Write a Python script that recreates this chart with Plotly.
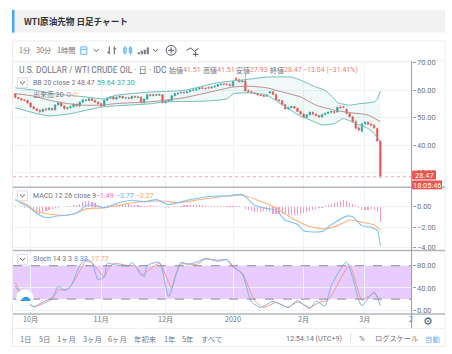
import plotly.graph_objects as go

W, H = 452, 354
UI_FONT = "Roboto, Noto Sans CJK JP, sans-serif"
JP_FONT = "Noto Sans CJK JP, sans-serif"
GRID = "#eef3f7"
GREY = "#6f7480"
SEP = "#b4b6bc"

# ---- OHLC, one row per trading day ----
bar_index = list(range(120))
opens = [58.7,57.3,56.9,56.4,56.2,55.3,53.9,53.2,52.6,52.2,53.0,52.8,53.3,52.8,54.6,55.4,54.2,53.3,53.6,53.9,
         54.9,54.2,55.6,56.4,56.2,56.8,56.2,55.6,55.0,54.2,56.3,57.0,57.5,56.7,57.4,57.7,57.1,57.2,56.9,57.7,
         57.4,57.5,55.4,56.7,58.3,58.0,58.3,58.1,58.3,55.4,55.9,56.2,57.9,58.7,58.9,59.2,59.0,59.4,59.9,60.0,
         60.4,60.8,60.6,60.9,60.7,61.1,61.4,62.0,62.2,62.1,62.0,61.5,64.2,63.7,63.0,63.3,59.7,59.4,59.0,58.7,
         58.2,58.0,57.7,58.9,59.4,58.4,56.4,56.1,54.7,53.1,53.6,54.0,53.4,52.2,51.3,50.1,51.0,51.9,51.2,50.7,
         50.2,51.1,51.5,51.9,52.2,52.0,53.7,53.9,53.0,51.5,50.3,48.5,46.1,45.0,47.7,48.3,47.6,47.2,46.0,41.51]
highs = [58.9,57.6,57.1,56.9,56.6,55.5,54.3,53.4,53.1,53.2,53.6,53.8,53.7,54.9,55.7,55.6,54.5,53.9,54.5,55.2,
         55.0,55.9,56.8,56.7,57.1,57.0,56.5,55.9,55.3,56.6,57.4,57.8,57.9,57.7,58.0,57.9,57.6,57.4,58.0,58.0,
         57.9,57.7,57.0,58.7,58.5,58.6,58.7,58.7,58.5,56.2,56.6,58.2,59.0,59.1,59.4,59.6,59.7,60.2,60.3,60.7,
         61.0,61.4,61.0,61.3,61.4,61.6,62.2,62.4,62.5,62.6,62.6,63.4,64.7,64.2,63.6,65.9,60.3,59.9,59.3,58.9,
         58.6,58.4,58.4,59.6,59.6,58.6,56.7,56.3,54.9,53.9,54.3,54.2,53.6,52.5,51.5,51.3,52.2,52.1,51.5,50.9,
         51.4,51.7,52.2,52.5,52.4,53.9,54.5,54.3,53.2,52.1,50.5,49.2,46.8,48.0,48.7,48.6,48.1,47.5,46.3,41.51]
lows = [57.0,56.6,56.1,55.9,55.0,53.6,52.9,52.4,51.4,51.9,52.5,52.6,52.5,52.6,54.3,53.8,52.8,52.8,53.2,53.5,
        54.0,53.9,55.4,55.9,55.9,56.0,55.3,54.7,53.9,54.0,56.1,56.8,56.4,56.5,56.9,56.9,56.7,56.7,56.7,57.2,
        56.9,55.1,55.2,56.5,57.7,57.6,57.9,57.9,55.1,55.0,55.6,56.0,57.7,58.2,58.6,58.8,58.8,59.2,59.6,59.7,
        60.2,60.4,60.2,60.5,60.5,60.8,61.2,61.7,61.8,61.7,61.6,61.3,63.7,62.8,62.7,59.4,59.0,58.8,58.5,58.0,
        57.7,57.5,57.5,58.7,58.2,56.1,55.8,54.4,52.8,52.8,53.3,53.2,52.0,51.0,49.7,49.5,50.7,51.0,50.4,49.9,
        50.0,50.8,51.2,51.5,51.3,51.8,53.3,53.6,51.2,50.0,48.2,45.7,45.1,44.5,47.2,47.3,46.8,45.9,41.2,27.93]
closes = [57.3,56.9,56.4,56.2,55.3,53.9,53.2,52.6,52.2,53.0,52.8,53.4,52.8,54.6,55.4,54.2,53.3,53.6,53.9,54.9,
          54.2,55.6,56.4,56.2,56.8,56.2,55.6,55.0,54.2,56.3,57.0,57.5,56.7,57.4,57.7,57.1,57.2,56.9,57.7,57.4,
          57.5,55.4,56.7,58.3,58.0,58.3,58.1,58.4,55.4,55.9,56.2,57.9,58.7,58.9,59.2,59.0,59.4,59.9,60.0,60.4,
          60.8,60.6,60.5,60.7,61.1,61.4,62.0,62.2,62.1,62.0,61.6,63.1,63.7,63.0,63.3,59.7,59.4,59.0,58.7,58.2,
          58.0,57.7,58.2,59.4,58.4,56.4,56.1,54.7,53.1,53.6,54.0,53.4,52.2,51.3,50.1,51.0,51.9,51.2,50.7,50.2,
          51.1,51.5,51.9,52.2,51.9,53.7,53.6,53.7,51.5,50.3,48.5,46.1,45.5,47.7,48.3,47.6,47.2,46.3,41.5,28.47]

# ---- Bollinger bands ----
bb_upper_x = [0,6,11,16,23,29,33,44,49,55,60,66,71,76,82,90,93,98,101,104,105,109,112,117,118,119]
bb_upper = [60.8,60,58.9,58.2,57.5,56.8,58.1,59.3,59.5,59.9,61.1,62.7,63.3,63.9,64.7,64.7,63.6,61.1,59.9,56.8,55.4,54.5,55,55.7,56.7,59.64]
bb_mid_x = [0,6,11,17,22,28,33,44,55,66,71,76,82,87,93,98,104,109,115,119]
bb_mid = [58.7,57.8,56.3,55.1,54.5,54.5,55.1,55.7,57.2,59.9,61.1,61.4,60.8,59.3,57.5,54.5,52.7,51.8,50.9,48.47]
bb_lower_x = [0,6,11,18,28,44,49,60,66,69,71,76,82,87,93,96,100,104,107,111,115,117,119]
bb_lower = [53.6,51.7,50.6,51.4,53.8,55,55.7,55.9,56.3,56.8,58.6,59,58.2,54.6,50.5,49.2,47.3,47.8,49.6,47.8,46,44.2,41.2]

# ---- MACD ----
macd_x = [0,5,7,9,11,14,17,20,23,26,29,33,38,42,46,50,56,60,64,69,74,78,81,85,88,92,94,100,103,108,110,113,116,118,119]
macd = [0.7,-0.15,-0.63,-0.96,-1.05,-0.87,-0.8,-0.6,0.1,0.16,-0.1,0.33,0.64,0.48,0.7,0.23,0.64,0.86,1.03,1.06,1.2,0.16,-0.1,-0.32,-1.28,-1.7,-2.34,-2.4,-1.76,-0.9,-0.96,-1.83,-2.0,-2.3,-3.77]
signal_x = [0,4,6,9,14,17,20,23,28,33,38,44,49,53,60,69,74,81,85,90,96,101,105,109,113,117,119]
signal = [0.7,0.2,-0.3,-0.6,-0.8,-0.8,-0.6,-0.2,-0.1,0.1,0.4,0.55,0.55,0.4,0.7,1.06,1.13,0.42,-0.1,-1.06,-1.92,-2.14,-1.83,-1.28,-1.5,-1.76,-2.27]
hist = [0.05,0.03,-0.03,-0.08,-0.05,-0.3,-0.5,-0.65,-0.65,-0.55,-0.45,-0.35,-0.2,-0.12,-0.08,-0.05,-0.02,0.05,0.1,0.15,
        0.22,0.3,0.45,0.55,0.55,0.5,0.4,0.2,0.1,0.12,0.18,0.22,0.25,0.25,0.22,0.2,0.22,0.25,0.22,0.2,
        0.15,0.12,0.1,0.12,0.15,0.12,0.08,0.03,-0.05,-0.12,-0.12,-0.05,0.05,0.1,0.12,0.15,0.17,0.18,0.18,0.18,
        0.17,0.15,0.12,0.12,0.1,0.1,0.08,0.08,0.05,0.1,0.08,0.12,0.1,0.08,-0.05,-0.2,-0.3,-0.4,-0.5,-0.55,
        -0.5,-0.45,-0.45,-0.55,-0.65,-0.65,-0.7,-0.7,-0.7,-0.75,-0.8,-0.8,-0.8,-0.7,-0.6,-0.5,-0.4,-0.3,-0.2,-0.15,
        -0.1,0.05,0.15,0.25,0.35,0.45,0.55,0.65,0.6,0.4,0.3,0.12,-0.15,-0.35,-0.35,-0.3,-0.25,-0.3,-0.55,-1.49]

# ---- Stochastic ----
stoch_k_x = [0,2,6,9,12,14,16,18,21,23,25,27,29,30,32,35,37,38,40,42,43,47,50,54,56,59,62,66,69,71,74,77,80,84,89,92,96,98,101,103,108,112,113,117,119]
stoch_k = [43,27,6,15,22,43,36,42,80,92,86,55,60,85,82,80,80,86,74,60,80,86,25,86,83,86,93,88,91,79,65,15,5,16,5,17,3,16,8,44,86.5,18,8,33,8.32]
stoch_d_x = [0,2,6,12,14,17,20,23,25,29,30,32,37,39,41,43,47,51,52,54,59,62,66,69,71,74,78,81,85,89,92,96,99,102,106,109,113,115,117,119]
stoch_d = [50,30,7,20,36,37,60,88,85,60,71,84,80,80,63,70,84,40,60,83,82,92,90,91,77,67,18,5,14,5,15,5,14,18,56,81,18,24,30,17.77]

# ---- Axis labels ----
month_positions = [5, 28, 49, 71, 94, 114, 129]
month_labels = ["10月", "11月", "12月", "2020", "2月", "3月", "2"]
price_ticks = [30, 40, 50, 60, 70]
macd_ticks = [-4, -2, 0]
stoch_ticks = [0, 40, 80]
toolbar_labels = [("1分", 18), ("30分", 35), ("1時間", 56)]
range_labels = [("1日", 26.5), ("5日", 45), ("1ヶ月", 67), ("3ヶ月", 93), ("6ヶ月", 118), ("年初来", 146), ("1年", 170), ("5年", 188), ("すべて", 212)]
last_price = 28.47

PX = lambda x: x / W
PY = lambda y: 1 - y / H
L, R = 13, 412.5

fig = go.Figure()

fig.add_trace(go.Scatter(x=bb_upper_x, y=bb_upper, mode="lines", line=dict(color="#72bdb8", width=1, shape="spline", smoothing=0.5), xaxis="x", yaxis="y", hoverinfo="skip"))
fig.add_trace(go.Scatter(x=bb_lower_x, y=bb_lower, mode="lines", line=dict(color="#72bdb8", width=1, shape="spline", smoothing=0.5), fill="tonexty", fillcolor="rgba(38,166,154,0.07)", xaxis="x", yaxis="y", hoverinfo="skip"))
fig.add_trace(go.Scatter(x=bb_mid_x, y=bb_mid, mode="lines", line=dict(color="#b78f8c", width=1, shape="spline", smoothing=0.5), xaxis="x", yaxis="y", hoverinfo="skip"))
fig.add_trace(go.Candlestick(x=bar_index, open=opens, high=highs, low=lows, close=closes, xaxis="x", yaxis="y",
    increasing=dict(line=dict(color="#26a69a", width=0.6), fillcolor="#26a69a"),
    decreasing=dict(line=dict(color="#ef5350", width=0.6), fillcolor="#ef5350"), whiskerwidth=0))

fig.add_trace(go.Bar(x=bar_index, y=hist, width=0.38, marker=dict(color="#ff97c1", line=dict(width=0)), xaxis="x2", yaxis="y2"))
fig.add_trace(go.Scatter(x=signal_x, y=signal, mode="lines", line=dict(color="#ffb27a", width=1.1, shape="spline", smoothing=0.6), xaxis="x2", yaxis="y2"))
fig.add_trace(go.Scatter(x=macd_x, y=macd, mode="lines", line=dict(color="#7cc3f8", width=1.1, shape="spline", smoothing=0.6), xaxis="x2", yaxis="y2"))

fig.add_trace(go.Scatter(x=stoch_d_x, y=stoch_d, mode="lines", line=dict(color="#f49a80", width=1, shape="spline", smoothing=0.6), xaxis="x3", yaxis="y3"))
fig.add_trace(go.Scatter(x=stoch_k_x, y=stoch_k, mode="lines", line=dict(color="#7ab2f7", width=1, shape="spline", smoothing=0.6), xaxis="x3", yaxis="y3"))

shapes, notes = [], []

def rect(x0, y0, x1, y1, fill="rgba(0,0,0,0)", line=None, width=1, layer="above"):
    shapes.append(dict(type="rect", xref="paper", yref="paper", x0=PX(x0), y0=PY(y0), x1=PX(x1), y1=PY(y1),
                       fillcolor=fill, line=dict(color=line or "rgba(0,0,0,0)", width=width if line else 0), layer=layer))

def seg(x0, y0, x1, y1, color, width=1, layer="above"):
    shapes.append(dict(type="line", xref="paper", yref="paper", x0=PX(x0), y0=PY(y0), x1=PX(x1), y1=PY(y1),
                       line=dict(color=color, width=width), layer=layer))

def text(s, x, y, color=GREY, size=7, anchor="left", font=UI_FONT):
    notes.append(dict(text=s, x=PX(x), y=PY(y), xref="paper", yref="paper", xanchor=anchor, yanchor="middle",
                      showarrow=False, font=dict(color=color, size=size, family=font), borderpad=0))

def chevron(cx, cy, color="#555a66"):
    seg(cx - 2.5, cy - 1.2, cx, cy + 1.2, color)
    seg(cx, cy + 1.2, cx + 2.5, cy - 1.2, color)

# page furniture
rect(12, 7, 446, 30, fill="#f2f2f2", layer="below")
rect(12, 7, 14.5, 30, fill="#42a5f5", layer="below")
rect(12.5, 38.5, 446, 348.5, line="#ececec", layer="below")
seg(13, 59, 446, 59, "#eeeeee", layer="below")
seg(13, 330, 446, 330, "#eeeeee", layer="below")
text("<b>WTI原油先物 日足チャート</b>", 23, 18.5, color="#333333", size=8.6, font=JP_FONT)

# toolbar
for s, x in toolbar_labels:
    text(s, x, 48, size=7.2, font=JP_FONT)
rect(81, 44.5, 87, 52, line="#64b5f6")
seg(81, 47, 87, 47, "#64b5f6")
chevron(96.5, 48)
seg(109.5, 44, 109.5, 52, "#555a66"); seg(107.5, 50, 109.5, 50, "#555a66")
seg(114.5, 44, 114.5, 52, "#555a66"); seg(114.5, 46.5, 116.5, 46.5, "#555a66")
rect(124, 45.5, 126.5, 50.5, line="#64b5f6"); seg(125.2, 43.5, 125.2, 52.5, "#64b5f6")
rect(129.5, 45.5, 132, 50.5, line="#64b5f6"); seg(130.7, 43.5, 130.7, 52.5, "#64b5f6")
for bx, by in [(138, 50), (141, 48.5), (144, 47.5), (147, 45)]:
    rect(bx, by, bx + 2.2, 52, fill="#777c88")
chevron(156, 48)
shapes.append(dict(type="circle", xref="paper", yref="paper", x0=PX(166.5), y0=PY(43), x1=PX(176.5), y1=PY(53), line=dict(color="#555a66", width=1), layer="above"))
seg(168.5, 48, 174.5, 48, "#555a66"); seg(171.5, 45, 171.5, 51, "#555a66")
seg(187, 48, 191, 45.5, "#555a66"); seg(191, 45.5, 195, 49, "#555a66"); seg(195, 49, 199, 46, "#555a66")
seg(193, 52, 199, 52, "#555a66"); seg(196, 49.5, 196, 54.5, "#555a66")

# symbol row
text("U.S. DOLLAR / WTI CRUDE OIL · 日 · IDC", 18, 68, size=8.4)
for s, x, c in [("始値", 168, GREY), ("41.51", 182, "#ef7a78"), ("高値", 202, GREY), ("41.51", 216, "#ef7a78"),
                ("安値", 236, GREY), ("27.93", 250, "#ef7a78"), ("終値", 270, GREY), ("28.47", 284, "#ef7a78"),
                ("−13.04 (−31.41%)", 303, "#ef7a78")]:
    text(s, x, 68, color=c, size=7)

# indicator legends
for cy in (81, 195.5, 260):
    rect(17.5, cy - 5, 27.5, cy + 5, fill="white", line="#dddddd")
    chevron(22.5, cy)
text("BB 20 close 2", 32, 81, size=7)
text("48.47", 76, 81, color="#a85a5a", size=7)
text("59.64", 96, 81, color="#3aa79d", size=7)
text("37.30", 116, 81, color="#3aa79d", size=7)
text("出来高 20", 32, 93, size=7)
text("0", 66, 93, color="#ef7a78", size=7)
text("-", 70.5, 93, color="#ef7a78", size=7)
text("0", 73, 93, color="#ffb27a", size=7)
text("MACD 12 26 close 9", 32, 195.5, size=7)
text("−1.49", 95, 195.5, color="#ff6fa8", size=7)
text("−3.77", 115, 195.5, color="#55b2f5", size=7)
text("−2.27", 135, 195.5, color="#ffa55f", size=7)
text("Stoch 14 3 3", 32, 260, size=7)
text("8.32", 73, 260, color="#4a9df5", size=7)
text("17.77", 90, 260, color="#ffa55f", size=7)

# stochastic band
shapes.append(dict(type="rect", xref="paper", yref="y3", x0=PX(L), x1=PX(R), y0=20, y1=80, fillcolor="#e8ccff", line=dict(width=0), layer="below"))
for lv in (20, 80):
    shapes.append(dict(type="line", xref="paper", yref="y3", x0=PX(L), x1=PX(R), y0=lv, y1=lv, line=dict(color="#8a8a94", width=1, dash="dash"), layer="above"))

# last price line
shapes.append(dict(type="line", xref="paper", yref="y", x0=PX(L), x1=PX(R), y0=last_price, y1=last_price, line=dict(color="#f5a5a3", width=1, dash="dot"), layer="above"))

# panel separators and price-axis border
seg(13, 187, 446, 187, SEP, 1.5)
seg(13, 251, 446, 251, SEP, 1.5)
seg(13, 315.5, 446, 315.5, SEP, 1.5)
seg(412.5, 59, 412.5, 330, "#9a9ca3", 1)

# price and countdown labels, above the separators
rect(413, 170, 437, 179, fill="#ef5350")
text("28.47", 425, 174.7, color="white", size=7.4, anchor="center")
rect(413, 180, 443, 189, fill="#ef5350")
text("18:05:46", 428, 184.7, color="white", size=7.4, anchor="center")

# cloud button
shapes.append(dict(type="circle", xref="paper", yref="paper", x0=PX(16.5), y0=PY(290.5), x1=PX(33.5), y1=PY(307.5), fillcolor="white", line=dict(color="#f0f0f0", width=1), layer="above"))
text("☁", 25, 298.5, color="#2f9bea", size=12, anchor="center", font="DejaVu Sans")

# footer
text("⚙", 429, 323, color="#555a66", size=11, anchor="center", font="DejaVu Sans")
for s, x in range_labels:
    text(s, x, 340, size=7.4, anchor="center", font=JP_FONT)
text("12:54:14 (UTC+9)", 286, 340, size=7.2)
seg(351.5, 335, 351.5, 345, "#dddddd")
text("%", 363, 340, size=7.8, anchor="center")
text("ログスケール", 374.5, 340, size=7.2, font=JP_FONT)
text("自動", 433, 340, color="#64b5f6", size=7.4, anchor="center", font=JP_FONT)

xr = [-0.75, 129.2]
xcommon = dict(range=xr, domain=[PX(L), PX(R)], tickmode="array", tickvals=month_positions, showgrid=True,
               gridcolor=GRID, gridwidth=1, zeroline=False, showline=False, rangeslider=dict(visible=False))
ycommon = dict(side="right", showgrid=True, gridcolor=GRID, zeroline=False, tickmode="array", tickformat=".2f",
               ticks="outside", ticklen=3, tickcolor="#9a9ca3", tickfont=dict(color=GREY, size=7.4, family=UI_FONT), showline=False)

fig.update_layout(
    width=W, height=H, margin=dict(l=0, r=0, t=0, b=0), autosize=False,
    paper_bgcolor="white", plot_bgcolor="white", showlegend=False, dragmode=False, bargap=0,
    xaxis=dict(xcommon, anchor="y", showticklabels=False, ticks=""),
    xaxis2=dict(xcommon, anchor="y2", showticklabels=False, ticks="", matches="x"),
    xaxis3=dict(xcommon, anchor="y3", matches="x", ticktext=month_labels, showticklabels=True, ticks="",
                tickfont=dict(color=GREY, size=7.2, family=JP_FONT)),
    yaxis=dict(ycommon, domain=[PY(187), PY(59)], range=[24.6, 70.5], tickvals=price_ticks, anchor="x"),
    yaxis2=dict(ycommon, domain=[PY(251), PY(187)], range=[-4.25, 1.9], tickvals=macd_ticks, anchor="x2"),
    yaxis3=dict(ycommon, domain=[PY(315.5), PY(251)], range=[-6.9, 107.5], tickvals=stoch_ticks, anchor="x3"),
    shapes=shapes, annotations=notes,
)

fig.write_html("out.html", config=dict(displayModeBar=False, staticPlot=True),
               post_script="document.body.style.margin='0';document.body.style.overflow='hidden';")
